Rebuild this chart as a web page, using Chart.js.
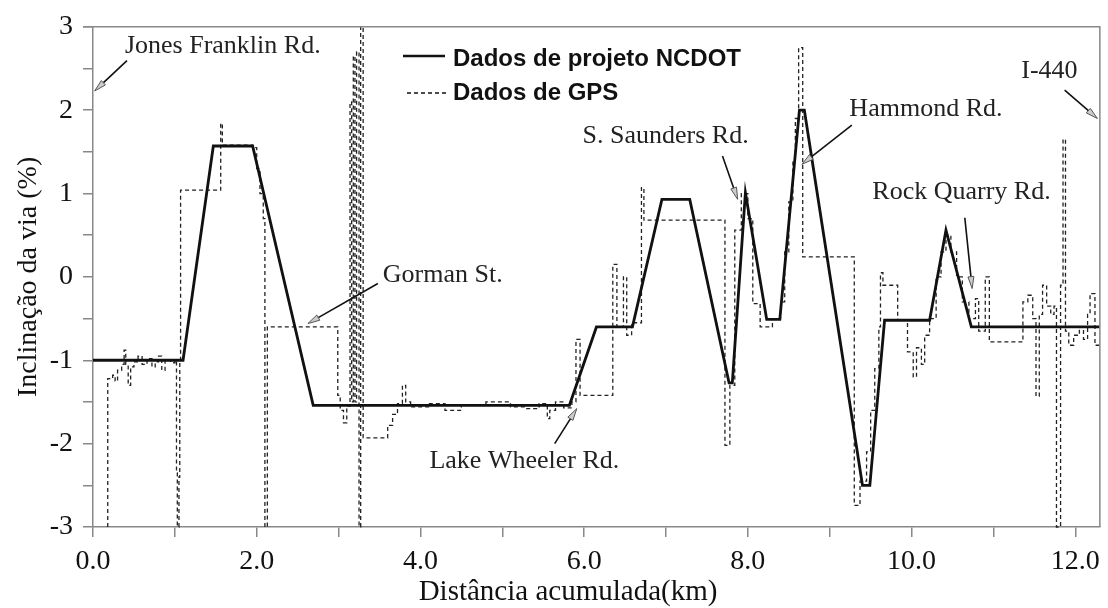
<!DOCTYPE html>
<html>
<head>
<meta charset="utf-8">
<script src="https://cdn.jsdelivr.net/npm/chart.js@4/dist/chart.umd.min.js"></script>
<style>
  html, body { margin: 0; padding: 0; background: #fff; }
  #grafico { display: block; }
</style>
</head>
<body>
<canvas id="grafico" width="1108" height="608"></canvas>
<script>
// Dados de projeto NCDOT (vértices da linha de projeto)
const projetoX = [0, 1.10, 1.47, 1.95, 2.69, 5.82, 6.15, 6.59, 6.95, 7.29, 7.77, 7.81, 7.97, 8.23, 8.39, 8.63, 8.69, 9.40, 9.49, 9.67, 10.22, 10.42, 10.73, 12.3];
const projetoY = [-1, -1, 1.57, 1.57, -1.54, -1.54, -0.6, -0.6, 0.93, 0.93, -1.27, -1.27, 1.01, -0.51, -0.51, 2.0, 2.0, -2.5, -2.5, -0.52, -0.52, 0.56, -0.6, -0.6];

// Dados de GPS (inicio de cada patamar, valor do patamar)
const gpsX = [0.18, 0.18, 0.24, 0.27, 0.30, 0.35, 0.38, 0.40, 0.43, 0.46, 0.50, 0.55, 0.60, 0.66, 0.72, 0.76, 0.80, 0.84, 0.88, 0.95,
  1.00, 1.02, 1.03, 1.05, 1.06, 1.07, 1.56, 1.58, 1.95, 2.00, 2.04, 2.08, 2.10, 2.13, 2.99, 3.02, 3.06, 3.10, 3.14, 3.16,
  3.18, 3.20, 3.22, 3.25, 3.27, 3.30, 3.60, 3.66, 3.72, 3.78, 3.82, 3.88, 4.10, 4.30, 4.50, 4.80, 5.10, 5.30, 5.45, 5.55,
  5.58, 5.65, 5.75, 5.85, 5.90, 5.95, 6.35, 6.40, 6.48, 6.52, 6.58, 6.70, 6.73, 7.72, 7.78, 7.84, 7.92, 8.00, 8.06, 8.15,
  8.30, 8.40, 8.45, 8.50, 8.55, 8.58, 8.62, 8.67, 9.30, 9.37, 9.45, 9.50, 9.55, 9.60, 9.62, 9.65, 9.83, 9.95, 10.02, 10.06,
  10.12, 10.16, 10.22, 10.30, 10.36, 10.42, 10.48, 10.55, 10.62, 10.70, 10.78, 10.82, 10.90, 10.95, 11.36, 11.42, 11.48, 11.52, 11.56, 11.60,
  11.65, 11.70, 11.74, 11.77, 11.82, 11.85, 11.88, 11.92, 11.98, 12.05, 12.10, 12.15, 12.18, 12.24, 12.30];
const gpsY = [-3, -1.22, -1.18, -1.25, -1.12, -1.05, -0.88, -1.05, -1.30, -1.08, -1.02, -0.95, -1.05, -0.98, -1.08, -1.02, -0.95, -1.12, -1.0, -1.03,
  -1.0, -2.35, -3, -2.4, -1.0, 1.04, 1.84, 1.58, 1.55, 1.3, 1.0, 0.7, -3, -0.6, -1.42, -1.6, -1.75, -1.55, 2.1, -1.5,
  2.65, -1.5, 2.7, -3, 3, -1.93, -1.78, -1.65, -1.52, -1.3, -1.5, -1.56, -1.52, -1.6, -1.54, -1.5, -1.56, -1.58, -1.52, -1.7,
  -1.6, -1.5, -1.57, -1.5, -0.75, -1.42, 0.15, -0.6, 0.0, -0.7, -0.55, 1.07, 0.68, -2.02, -1.3, 0.56, 1.0, 0.7, -0.32, -0.6,
  -0.5, -0.3, 0.3, 0.9, 1.4, 1.9, 2.75, 0.24, -2.74, -2.45, -2.1, -1.6, -1.1, -0.6, 0.05, -0.1, -0.52, -0.9, -1.2, -0.85,
  -1.05, -0.7, -0.5, 0.0, 0.3, 0.5, 0.3, 0.0, -0.3, -0.5, -0.26, -0.65, 0.0, -0.78, -0.3, -0.22, -0.5, -1.43, -0.45, -0.1,
  -0.35, -0.45, -0.35, -3, -0.1, 1.65, -0.65, -0.82, -0.7, -0.6, -0.75, -0.45, -0.2, -0.82, -0.82];

// Marcas de eixo
const ticksX = [0, 2, 4, 6, 8, 10, 12];
const ticksY = [-3, -2, -1, 0, 1, 2, 3];

// Anotações das vias (posição do texto e da seta em unidades dos eixos)
const viasNome = ['Jones Franklin Rd.', 'Gorman St.', 'Lake Wheeler Rd.', 'S. Saunders Rd.', 'Hammond Rd.', 'Rock Quarry Rd.', 'I-440'];
const viasTexto = [[0.39, 2.69], [3.54, -0.06], [4.11, -2.29], [5.98, 1.61], [9.24, 1.93], [9.52, 0.93], [11.34, 2.38]];
const viasSeta = [[0.415, 2.595, 0.02, 2.23], [3.48, -0.08, 2.625, -0.56], [5.64, -2.0, 5.91, -1.58], [7.69, 1.45, 7.875, 0.93],
  [9.27, 1.82, 8.66, 1.35], [10.65, 0.71, 10.74, -0.14], [11.87, 2.24, 12.27, 1.9]];

const serif = "'Liberation Serif', 'Times New Roman', serif";

const toPoints = (xs, ys) => xs.map((x, i) => ({ x: x, y: ys[i] }));

// Plugin para moldura, legenda, anotações e título do eixo x
const extras = {
  id: 'extras',
  afterDraw(chart) {
    const { ctx, chartArea: a, scales: { x, y } } = chart;
    ctx.save();

    // moldura superior e direita
    ctx.strokeStyle = '#888';
    ctx.lineWidth = 1.5;
    ctx.beginPath();
    ctx.moveTo(a.left - 10, a.top);
    ctx.lineTo(a.right, a.top);
    ctx.lineTo(a.right, a.bottom);
    ctx.stroke();

    // legenda
    ctx.strokeStyle = '#111';
    ctx.lineWidth = 2.6;
    ctx.beginPath();
    ctx.moveTo(403, 56);
    ctx.lineTo(445, 56);
    ctx.stroke();
    ctx.lineWidth = 1.3;
    ctx.setLineDash([4, 3]);
    ctx.beginPath();
    ctx.moveTo(407, 93);
    ctx.lineTo(448, 93);
    ctx.stroke();
    ctx.setLineDash([]);
    ctx.fillStyle = '#111';
    ctx.font = "bold 24px 'Liberation Sans', Arial, sans-serif";
    ctx.textBaseline = 'alphabetic';
    ctx.textAlign = 'left';
    ctx.fillText(chart.data.datasets[0].label, 453, 66);
    ctx.fillText(chart.data.datasets[1].label, 453, 100);

    // anotações das vias
    ctx.font = '26px ' + serif;
    ctx.fillStyle = '#222';
    viasNome.forEach((nome, i) => {
      ctx.fillText(nome, x.getPixelForValue(viasTexto[i][0]), y.getPixelForValue(viasTexto[i][1]));
      const s = viasSeta[i];
      const x0 = x.getPixelForValue(s[0]), y0 = y.getPixelForValue(s[1]);
      const x1 = x.getPixelForValue(s[2]), y1 = y.getPixelForValue(s[3]);
      const ang = Math.atan2(y1 - y0, x1 - x0);
      ctx.strokeStyle = '#111';
      ctx.lineWidth = 1.6;
      ctx.beginPath();
      ctx.moveTo(x0, y0);
      ctx.lineTo(x1 - 10 * Math.cos(ang), y1 - 10 * Math.sin(ang));
      ctx.stroke();
      // ponta da seta
      ctx.beginPath();
      ctx.moveTo(x1, y1);
      ctx.lineTo(x1 - 12 * Math.cos(ang) + 3 * Math.sin(ang), y1 - 12 * Math.sin(ang) - 3 * Math.cos(ang));
      ctx.lineTo(x1 - 12 * Math.cos(ang) - 3 * Math.sin(ang), y1 - 12 * Math.sin(ang) + 3 * Math.cos(ang));
      ctx.closePath();
      ctx.fillStyle = '#ccc';
      ctx.fill();
      ctx.lineWidth = 1;
      ctx.strokeStyle = '#555';
      ctx.stroke();
      ctx.fillStyle = '#222';
    });

    // título do eixo x
    ctx.font = '29px ' + serif;
    ctx.fillStyle = '#111';
    ctx.textAlign = 'center';
    ctx.fillText('Distância acumulada(km)', 568, 600);
    ctx.restore();
  }
};

const ctx = document.getElementById('grafico').getContext('2d');
new Chart(ctx, {
  type: 'line',
  data: {
    datasets: [
      {
        label: 'Dados de projeto NCDOT',
        data: toPoints(projetoX, projetoY),
        borderColor: '#111',
        borderWidth: 2.8,
        pointRadius: 0,
        tension: 0,
        order: 1
      },
      {
        label: 'Dados de GPS',
        data: toPoints(gpsX, gpsY),
        borderColor: '#222',
        borderWidth: 1.3,
        borderDash: [4, 3],
        pointRadius: 0,
        stepped: true,
        order: 2
      }
    ]
  },
  options: {
    responsive: false,
    animation: false,
    clip: false,
    layout: { padding: { top: 23, right: 8, left: 0, bottom: 0 } },
    plugins: { legend: { display: false }, tooltip: { enabled: false } },
    scales: {
      x: {
        type: 'linear',
        min: 0,
        max: 12.3,
        ticks: {
          stepSize: 1,
          includeBounds: false,
          autoSkip: false,
          maxRotation: 0,
          padding: 8,
          color: '#111',
          font: { family: serif, size: 28 },
          callback: v => ticksX.includes(v) ? v.toFixed(1) : ''
        },
        grid: { drawOnChartArea: false, tickLength: 10, color: '#888', lineWidth: 1.5 },
        border: { color: '#888', width: 1.5 },
        afterFit: s => { s.height = 81; }
      },
      y: {
        min: -3,
        max: 3,
        ticks: {
          stepSize: 0.5,
          includeBounds: false,
          autoSkip: false,
          padding: 10,
          color: '#111',
          font: { family: serif, size: 28 },
          callback: v => ticksY.includes(v) ? String(v) : ''
        },
        grid: { drawOnChartArea: false, tickLength: 10, color: '#888', lineWidth: 1.5 },
        border: { color: '#888', width: 1.5 },
        title: {
          display: true,
          text: 'Inclinação da via (%)',
          color: '#111',
          font: { family: serif, size: 28 },
          padding: { top: 12, bottom: 0 }
        },
        afterFit: s => { s.width = 93; }
      }
    }
  },
  plugins: [extras]
});
</script>
</body>
</html>
